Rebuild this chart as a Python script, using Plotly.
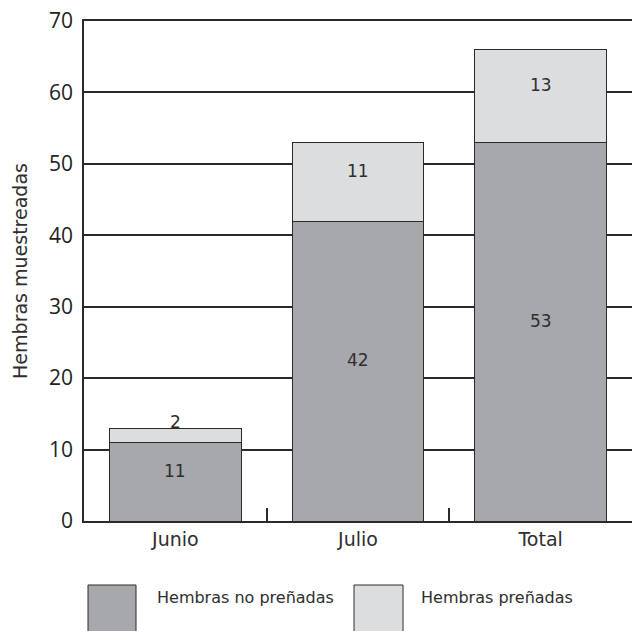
import plotly.graph_objects as go

# Sampled females per period
categories = ["Junio", "Julio", "Total"]
no_prenadas = [11, 42, 53]
prenadas = [2, 11, 13]

series_names = ["Hembras no preñadas", "Hembras preñadas"]
y_title = "Hembras muestreadas"
y_ticks = [0, 10, 20, 30, 40, 50, 60, 70]

DARK = "#a7a8ab"
LIGHT = "#dcdddf"
INK = "#2a2a2a"
TEXT = "#2e2e2e"
FONT = "DejaVu Sans"

fig = go.Figure()
fig.add_trace(go.Bar(x=categories, y=no_prenadas, name=series_names[0],
                     marker=dict(color=DARK, line=dict(color=INK, width=1)),
                     width=0.72, showlegend=False))
fig.add_trace(go.Bar(x=categories, y=prenadas, name=series_names[1],
                     marker=dict(color=LIGHT, line=dict(color=INK, width=1)),
                     width=0.72, showlegend=False))

# Value labels inside each segment
label_font = dict(family=FONT, size=17, color=TEXT)
for cat, a, b in zip(categories, no_prenadas, prenadas):
    fig.add_annotation(x=cat, y=a / 2, text=str(a), showarrow=False,
                       yshift=11, font=label_font)
    fig.add_annotation(x=cat, y=a + b / 2, text=str(b), showarrow=False,
                       yshift=11 if b > 5 else 13, font=label_font)

# Legend drawn as boxes with captions below the plot
legend_font = dict(family=FONT, size=16, color=TEXT)
W, H = 632, 631
L, R, T, B = 84, 0, 21, 110
pw, ph = W - L - R, H - T - B


def px_x(x):
    return (x - L) / pw


def px_y(y):
    return (H - B - y) / ph


for (x0, x1, tx), name, col in zip([(88, 136, 155), (354, 403, 419)],
                                   series_names, [DARK, LIGHT]):
    fig.add_shape(type="rect", xref="paper", yref="paper",
                  x0=px_x(x0), x1=px_x(x1), y0=px_y(640), y1=px_y(585),
                  fillcolor=col, line=dict(color=INK, width=1))
    fig.add_annotation(xref="paper", yref="paper", x=px_x(tx), y=px_y(597),
                       text=name, showarrow=False, xanchor="left",
                       yanchor="middle", font=legend_font)

fig.update_layout(
    width=W, height=H,
    margin=dict(l=L, r=R, t=T, b=B, pad=0),
    barmode="stack",
    bargap=0.28,
    plot_bgcolor="white", paper_bgcolor="white",
    xaxis=dict(
        range=[-0.5, 2.5], showline=True, mirror=True, linecolor=INK,
        linewidth=1.5, showgrid=False, ticks="inside", tickson="boundaries",
        ticklen=13, tickwidth=1.5, tickcolor=INK,
        tickfont=dict(family=FONT, size=19, color=TEXT),
    ),
    yaxis=dict(
        range=[0, 70], tickvals=y_ticks, showline=True, linecolor=INK,
        linewidth=1.5, showgrid=True, gridcolor=INK, gridwidth=1.5,
        zeroline=False, ticks="", ticklabelstandoff=5,
        tickfont=dict(family="Open Sans", size=21, color="#222"),
        title=dict(text=y_title, standoff=16,
                   font=dict(family=FONT, size=19, color=TEXT)),
    ),
)

fig.write_html("out.html")
